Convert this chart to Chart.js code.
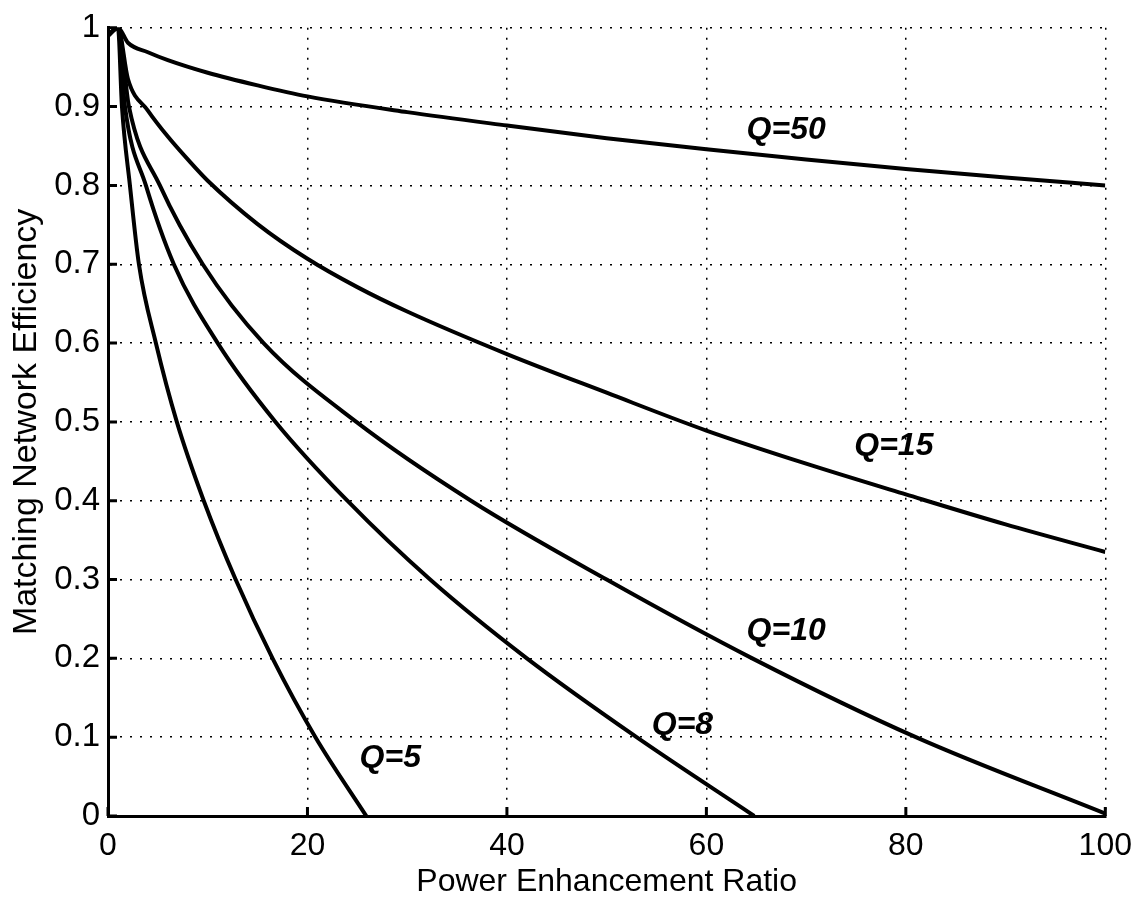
<!DOCTYPE html>
<html>
<head>
<meta charset="utf-8">
<script src="https://cdn.jsdelivr.net/npm/chart.js@4/dist/chart.umd.min.js"></script>
<style>
  body { margin: 0; background: #fff; }
  canvas { display: block; }
</style>
</head>
<body>
<canvas id="effChart" width="1143" height="899"></canvas>
<script>
// curve values (x = power enhancement ratio, y = efficiency)
const q50x = [0, 1, 2, 4, 6, 10, 15, 20, 30, 40, 50, 60, 70, 80, 90, 100];
const q50y = [0.99, 1, 0.981, 0.969, 0.959, 0.943, 0.927, 0.913, 0.893, 0.876, 0.86, 0.846, 0.833, 0.821, 0.81, 0.80];

const q15x = [0, 1, 2, 4, 6, 8, 10, 15, 20, 25, 30, 40, 50, 60, 70, 80, 90, 100];
const q15y = [0.99, 1, 0.935, 0.895, 0.862, 0.833, 0.806, 0.751, 0.707, 0.671, 0.64, 0.586, 0.537, 0.489, 0.447, 0.408, 0.37, 0.335];

// the steeper curves were read where they cross the 0.1 grid lines
const q10x = [0, 1, 2.1, 5.2, 9.5, 15.6, 24.9, 36.4, 50, 64.6, 81, 100];
const q10y = [0.99, 1, 0.9, 0.8, 0.7, 0.6, 0.5, 0.4, 0.3, 0.2, 0.1, 0.003];

const q8x = [0, 1, 1.7, 3.8, 6.6, 11.0, 16.8, 24.0, 32.3, 42, 53, 64.8];
const q8y = [0.99, 1, 0.9, 0.8, 0.7, 0.6, 0.5, 0.4, 0.3, 0.2, 0.1, 0];

const q5x = [0, 1, 1.4, 2.2, 3.1, 4.8, 6.9, 9.6, 12.8, 16.5, 20.8, 25.9];
const q5y = [0.99, 1, 0.9, 0.8, 0.7, 0.6, 0.5, 0.4, 0.3, 0.2, 0.1, 0];

const curveNames = ["Q=50", "Q=15", "Q=10", "Q=8", "Q=5"];
// where each curve's label sits, in data units
const labelX = [68.0, 78.8, 68.0, 57.6, 28.3];
const labelY = [0.870, 0.469, 0.235, 0.115, 0.074];

const xTicks = [0, 20, 40, 60, 80, 100];
const yTicks = [0, 0.1, 0.2, 0.3, 0.4, 0.5, 0.6, 0.7, 0.8, 0.9, 1];

const FONT = '"Liberation Sans", Arial, Helvetica, sans-serif';

const toPoints = (xs, ys) => xs.map((x, i) => ({ x: x, y: ys[i] }));
const curves = [
  toPoints(q50x, q50y),
  toPoints(q15x, q15y),
  toPoints(q10x, q10y),
  toPoints(q8x, q8y),
  toPoints(q5x, q5y)
];

// inward tick marks + curve labels
const extras = {
  id: "extras",
  afterDatasetsDraw(chart) {
    const { ctx, scales: { x, y }, chartArea } = chart;
    ctx.save();
    ctx.strokeStyle = "#000";
    ctx.lineWidth = 3;
    ctx.beginPath();
    xTicks.forEach(v => {
      const px = x.getPixelForValue(v);
      ctx.moveTo(px, chartArea.bottom);
      ctx.lineTo(px, chartArea.bottom - 9);
    });
    yTicks.forEach(v => {
      const py = y.getPixelForValue(v);
      ctx.moveTo(chartArea.left, py);
      ctx.lineTo(chartArea.left + 9, py);
    });
    ctx.stroke();

    ctx.fillStyle = "#000";
    ctx.font = "italic bold 32px " + FONT;
    ctx.textAlign = "center";
    ctx.textBaseline = "middle";
    curveNames.forEach((name, i) => {
      ctx.fillText(name, x.getPixelForValue(labelX[i]), y.getPixelForValue(labelY[i]));
    });
    ctx.restore();
  }
};

const ctx = document.getElementById("effChart").getContext("2d");

const effChart = new Chart(ctx, {
  type: "line",
  data: {
    datasets: curves.map((pts, i) => ({
      label: curveNames[i],
      data: pts,
      borderColor: "#000",
      borderWidth: 4,
      pointRadius: 0,
      fill: false,
      cubicInterpolationMode: "monotone"
    }))
  },
  options: {
    responsive: false,
    animation: false,
    layout: { padding: { top: 24, right: 31, left: 0, bottom: 0 } },
    scales: {
      x: {
        type: "linear",
        min: 0,
        max: 100,
        afterBuildTicks: s => { s.ticks = xTicks.map(v => ({ value: v })); },
        afterFit: s => { s.height = 83; },
        grid: { color: "#000", lineWidth: 1.5, drawTicks: false },
        border: { display: true, color: "#000", width: 3, dash: [2, 8] },
        ticks: {
          color: "#000",
          padding: 11,
          maxRotation: 0,
          font: { family: FONT, size: 32 }
        },
        title: {
          display: true,
          text: "Power Enhancement Ratio",
          color: "#000",
          font: { family: FONT, size: 32, lineHeight: 1 },
          padding: { top: 0, bottom: 1 }
        }
      },
      y: {
        type: "linear",
        min: 0,
        max: 1,
        afterBuildTicks: s => { s.ticks = yTicks.map(v => ({ value: v })); },
        afterFit: s => { s.width = 108; },
        grid: { color: "#000", lineWidth: 1.5, drawTicks: false },
        border: { display: true, color: "#000", width: 3, dash: [2, 8] },
        ticks: {
          color: "#000",
          padding: 8,
          font: { family: FONT, size: 33 },
          callback: v => String(Math.round(v * 10) / 10)
        },
        title: {
          display: true,
          text: "Matching Network Efficiency",
          color: "#000",
          font: { family: FONT, size: 34, lineHeight: 1 },
          padding: { top: 10, bottom: 0 }
        }
      }
    },
    plugins: {
      legend: { display: false },
      tooltip: { enabled: false }
    }
  },
  plugins: [extras]
});
</script>
</body>
</html>
